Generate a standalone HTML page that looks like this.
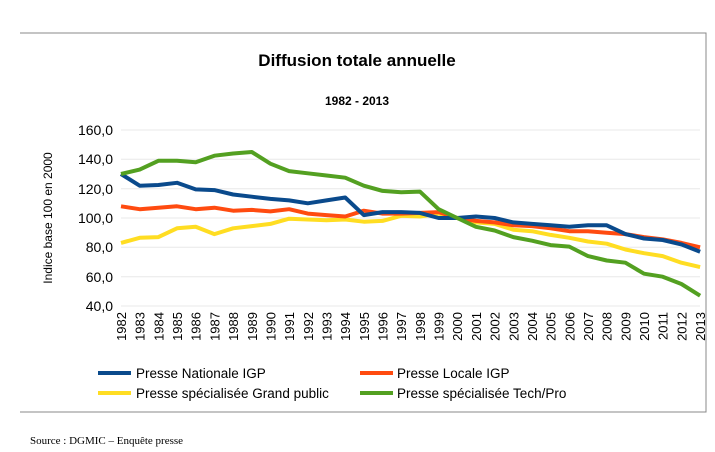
<!DOCTYPE html><html><head><meta charset="utf-8"><style>body{margin:0;background:#fff}svg{display:block}</style></head><body>
<svg width="715" height="452" xmlns="http://www.w3.org/2000/svg" font-family="Liberation Sans, sans-serif">
<rect x="0" y="0" width="715" height="452" fill="#fff"/>
<path d="M20 33 H706 V412 H20" fill="none" stroke="#888" stroke-width="1"/>
<text x="357" y="66" text-anchor="middle" font-size="17" font-weight="bold">Diffusion totale annuelle</text>
<text x="357" y="105" text-anchor="middle" font-size="12" font-weight="bold">1982 - 2013</text>
<g stroke="#e8e8e8" stroke-width="1">
<line x1="121" y1="130" x2="700" y2="130"/><line x1="121" y1="159.3" x2="700" y2="159.3"/><line x1="121" y1="188.7" x2="700" y2="188.7"/><line x1="121" y1="218" x2="700" y2="218"/><line x1="121" y1="247.3" x2="700" y2="247.3"/><line x1="121" y1="276.7" x2="700" y2="276.7"/><line x1="121" y1="306" x2="700" y2="306"/>
</g>
<g font-size="14" text-anchor="end">
<text x="113" y="135">160,0</text><text x="113" y="164">140,0</text><text x="113" y="194">120,0</text><text x="113" y="223">100,0</text><text x="113" y="252">80,0</text><text x="113" y="282">60,0</text><text x="113" y="311">40,0</text>
</g>
<text transform="translate(52,218) rotate(-90)" text-anchor="middle" font-size="12">Indice base 100 en 2000</text>
<g id="yrs" font-size="13"></g>
<g id="lines" fill="none" stroke-width="4" stroke-linejoin="round"></g>
<g font-size="13.5">
<line x1="98" y1="373" x2="131" y2="373" stroke="#0a4a8c" stroke-width="4"/><text x="136" y="378">Presse Nationale IGP</text>
<line x1="360" y1="373" x2="393" y2="373" stroke="#ff4b10" stroke-width="4"/><text x="397" y="378">Presse Locale IGP</text>
<line x1="98" y1="393" x2="131" y2="393" stroke="#ffdd22" stroke-width="4"/><text x="136" y="398">Presse spécialisée Grand public</text>
<line x1="360" y1="393" x2="393" y2="393" stroke="#53a021" stroke-width="4"/><text x="397" y="398">Presse spécialisée Tech/Pro</text>
</g>
<text x="30" y="444" font-family="Liberation Serif, serif" font-size="11">Source : DGMIC –  Enquête presse</text>
</svg>
<script>
var ns="http://www.w3.org/2000/svg";
var X=function(i){return 121+i*18.68},Y=function(v){return 306-(v-40)*176/120};
var yrs=document.getElementById('yrs');
for(var i=0;i<32;i++){var t=document.createElementNS(ns,'text');var x=X(i)+5;t.setAttribute('transform','translate('+x+',312) rotate(-90)');t.setAttribute('text-anchor','end');t.textContent=1982+i;yrs.appendChild(t);}
var d=[["#ffdd22",[83,86.5,87,93,94,89,93,94.5,96,99.5,99,98.5,99,97.5,98,101.5,101,103,100,97,96,92,91,88.5,86.5,84,82.5,78.5,76,74,69.5,66.5]],
["#ff4b10",[108,106,107,108,106,107,105,105.5,104.5,106,103,102,101,105,103,103,103.5,104,100,98,97,95,94.5,93,91,91,90,89,87,85.5,83,80]],
["#0a4a8c",[130,122,122.5,124,119.5,119,116,114.5,113,112,110,112,114,102,104,104,103.5,100,100,101,100,97,96,95,94,95,95,89,86,85,82,77]],
["#53a021",[130,133,139,139,138,142.5,144,145,137,132,130.5,129,127.5,122,118.5,117.5,118,106,100,94,91.5,87,84.5,81.5,80.5,74,71,69.5,62,60,55,47]]];
var g=document.getElementById('lines');
d.forEach(function(s){var p=document.createElementNS(ns,'polyline');p.setAttribute('points',s[1].map(function(v,i){return X(i).toFixed(1)+','+Y(v).toFixed(1)}).join(' '));p.setAttribute('stroke',s[0]);g.appendChild(p);});
</script>
</body></html>
